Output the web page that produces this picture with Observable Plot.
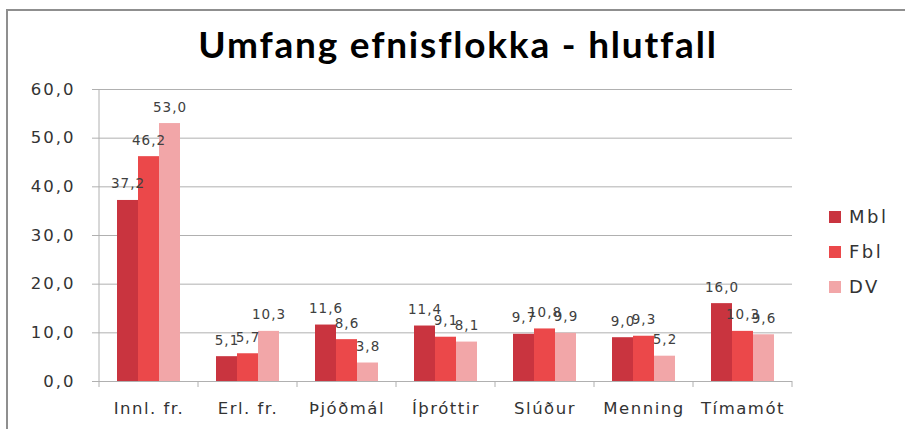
<!DOCTYPE html>
<html>
<head>
<meta charset="utf-8">
<script src="https://cdn.jsdelivr.net/npm/d3@7"></script>
<script src="https://cdn.jsdelivr.net/npm/@observablehq/plot@0.6"></script>
<style>
  html, body { margin: 0; padding: 0; background: #fff; }
  #wrap { position: relative; width: 905px; height: 429px; overflow: hidden; background: #fff; }
  #border { position: absolute; left: 6px; top: 9px; width: 920px; height: 440px;
            border-top: 2px solid #8f8f8f; border-left: 2px solid #8f8f8f; box-sizing: border-box; }
  #titlebox { position: relative; height: 80px; }
  #title { position: absolute; left: 11px; width: 894px; top: 22px; text-align: center;
           font-family: Lato, "Open Sans", sans-serif; font-weight: 700; font-size: 37px;
           letter-spacing: 1.8px; line-height: 44px; color: #000; }
  #chart { position: relative; }
  #legend { position: absolute; left: 829px; top: 199px; font-family: "DejaVu Sans", sans-serif;
            font-size: 18px; color: #333; letter-spacing: 2.5px; }
  .row { display: flex; align-items: center; height: 35px; }
  .sw { width: 12px; height: 12px; margin-right: 8px; }
</style>
</head>
<body>
<div id="wrap">
  <div id="border"></div>
  <div id="titlebox"><div id="title">Umfang efnisflokka - hlutfall</div></div>
  <div id="chart"></div>
  <div id="legend"></div>
</div>
<script>
const categories = ["Innl. fr.", "Erl. fr.", "Þjóðmál", "Íþróttir", "Slúður", "Menning", "Tímamót"];
const series = ["Mbl", "Fbl", "DV"];
const mbl = [37.2, 5.1, 11.6, 11.4, 9.7, 9.0, 16.0];
const fbl = [46.2, 5.7, 8.6, 9.1, 10.8, 9.3, 10.3];
const dv  = [53.0, 10.3, 3.8, 8.1, 9.9, 5.2, 9.6];
const yTicks = [0, 10, 20, 30, 40, 50, 60];
const colors = ["#c9343f", "#eb484a", "#f2a6a8"];

const seriesValues = [mbl, fbl, dv];
const data = [];
categories.forEach((c, i) => {
  series.forEach((s, j) => data.push({cat: c, series: s, value: seriesValues[j][i]}));
});
const fmt = v => v.toFixed(1).replace(".", ",");
const lineColor = "#b0b0b0";

const plot = Plot.plot({
  width: 905,
  height: 349,
  marginLeft: 96,
  marginRight: 111,
  marginTop: 9,
  marginBottom: 48,
  style: {fontFamily: "'DejaVu Sans', sans-serif", background: "transparent", overflow: "visible"},
  fx: {domain: categories, padding: 0, label: null},
  x: {domain: series, paddingInner: 0, paddingOuter: 0.77, axis: null},
  y: {domain: [0, 60], label: null},
  color: {domain: series, range: colors},
  marks: [
    Plot.gridY(yTicks, {stroke: lineColor, strokeOpacity: 1}),
    Plot.barY(data, {fx: "cat", x: "series", y: "value", fill: "series", inset: 0}),
    Plot.ruleY([0], {stroke: lineColor}),
    Plot.text(data, {fx: "cat", x: "series", y: "value", text: d => fmt(d.value),
      lineAnchor: "bottom", dy: -12, fill: "#404040", fontSize: 13.5}),
    Plot.axisY({ticks: yTicks, tickSize: 7, tickPadding: 17, tickFormat: fmt,
      color: "#333", fontSize: 16.5, label: null}),
    Plot.axisFx({anchor: "bottom", tickSize: 0, tickPadding: 21, color: "#333", fontSize: 16.5, label: null})
  ]
});
document.getElementById("chart").appendChild(plot);

const svg = d3.select(plot);
svg.selectAll('g[aria-label="y-axis tick"] path').attr("stroke", lineColor);
svg.selectAll('g[aria-label="y-axis tick label"] text').style("letter-spacing", "2px");
svg.selectAll('g[aria-label="fx-axis tick label"] text').style("letter-spacing", "1.5px");
svg.selectAll('g[aria-label="text"] text').style("letter-spacing", "1px");

// axis line on the left and boundary ticks under the x axis, from Plot's scales
const fx = plot.scale("fx");
const y = plot.scale("y");
const y0 = y.apply(0);
const yTop = y.apply(60);
const bounds = categories.map(c => fx.apply(c));
bounds.push(fx.apply(categories[categories.length - 1]) + fx.bandwidth);
const g = svg.append("g").attr("stroke", lineColor).attr("fill", "none");
g.append("line").attr("x1", bounds[0]).attr("x2", bounds[0]).attr("y1", yTop).attr("y2", y0);
bounds.forEach(b => {
  g.append("line").attr("x1", b).attr("x2", b).attr("y1", y0).attr("y2", y0 + 6);
});

// legend
const legend = d3.select("#legend");
series.forEach((s, i) => {
  const row = legend.append("div").attr("class", "row");
  row.append("div").attr("class", "sw").style("background", colors[i]);
  row.append("span").text(s);
});
</script>
</body>
</html>
